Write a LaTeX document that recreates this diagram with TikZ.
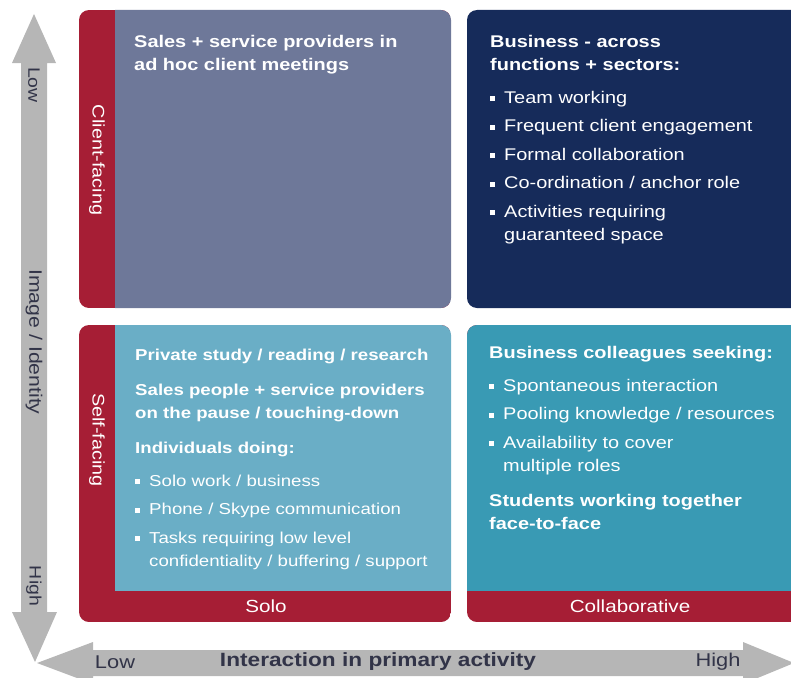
\documentclass[tikz,border=0pt]{standalone}
\usepackage{fontspec}
\setmainfont[FakeStretch=1.18]{Liberation Sans}
\usepackage{tikz}
\usetikzlibrary{positioning}
\usepackage{xcolor}
\definecolor{crimson}{RGB}{166,30,53}
\definecolor{slate}{RGB}{110,120,153}
\definecolor{navy}{RGB}{22,43,90}
\definecolor{sky}{RGB}{106,174,198}
\definecolor{deepsky}{RGB}{57,154,180}
\definecolor{axisgray}{RGB}{182,182,182}
\definecolor{axistext}{RGB}{50,52,72}
\newcommand{\bul}{\makebox[14pt][l]{\rule[2pt]{5pt}{5pt}}}
\newcommand{\ind}{\hspace*{14pt}}

\begin{document}
\begin{tikzpicture}[x=1pt,y=-1pt,
  txt/.style={anchor=north west,inner sep=0pt,align=left,text=white,font=\fontsize{16.9}{23}\selectfont},
  ax/.style={text=axistext,inner sep=0pt,font=\fontsize{18.5}{20}\selectfont},
  tab/.style={text=white,inner sep=0pt,font=\fontsize{17.5}{20}\selectfont}]
\useasboundingbox (0,0) rectangle (791,677);
% axes
\fill[axisgray] (34,14)--(56,63)--(47,63)--(47,612)--(57,612)--(35,662)--(12,612)--(21,612)--(21,63)--(12,63)--cycle;
\fill[axisgray] (37,663)--(93,642)--(93,650)--(743,650)--(743,642)--(794,663)--(743,684)--(743,676)--(93,676)--(93,684)--cycle;
\node[ax,rotate=-90,font=\fontsize{16.5}{20}\selectfont] (ylow) at (34,85) {Low};
\node[ax,rotate=-90,font=\fontsize{18}{20}\selectfont] (ylab) at (34,342) {Image / Identity};
\node[ax,rotate=-90,font=\fontsize{16.5}{20}\selectfont] (yhigh) at (34,586) {High};
\node[ax] (xlow) at (115,662) {Low};
\node[ax,font=\fontsize{19.2}{20}\selectfont\bfseries] (xlab) at (378,662) {Interaction in primary activity};
\node[ax] (xhigh) at (718,662) {High};
% quadrants
\begin{scope}
\clip[rounded corners=10pt] (79,10) rectangle (451,308);
\fill[crimson] (79,10) rectangle (451,308);
\fill[slate] (115,0) rectangle (460,320);
\end{scope}
\fill[navy,rounded corners=10pt] (467,10) rectangle (805,308);
\begin{scope}
\clip[rounded corners=10pt] (79,325) rectangle (451,622);
\fill[crimson] (79,325) rectangle (451,622);
\fill[sky] (115,315) rectangle (460,591);
\end{scope}
\begin{scope}
\clip[rounded corners=10pt] (467,325) rectangle (805,622);
\fill[crimson] (467,325) rectangle (805,622);
\fill[deepsky] (460,315) rectangle (810,591);
\end{scope}
% strip labels
\node[tab,rotate=-90,font=\fontsize{16.8}{20}\selectfont] (client) at (97,160) {Client-facing};
\node[tab,rotate=-90,font=\fontsize{16.8}{20}\selectfont] (self) at (97,440) {Self-facing};
\node[tab] (solo) at (266,606) {Solo};
\node[tab] (collab) at (630,606) {Collaborative};
% texts
\node[txt] (tl) at (134,34.7) {\textbf{Sales + service providers in}\\
  \textbf{ad hoc client meetings}};
\node[txt] (tr) at (490,34.7) {\textbf{Business - across}\\
  \textbf{functions + sectors:}\\[10pt]
  \bul Team working\\[5.5pt]
  \bul Frequent client engagement\\[5.5pt]
  \bul Formal collaboration\\[5.5pt]
  \bul Co-ordination / anchor role\\[5.5pt]
  \bul Activities requiring\\
  \ind guaranteed space};
\node[txt,font=\fontsize{15.8}{23}\selectfont] (bl) at (135,348.5) {\textbf{Private study / reading / research}\\[12pt]
  \textbf{Sales people + service providers}\\
  \textbf{on the pause / touching-down}\\[12pt]
  \textbf{Individuals doing:}\\[10pt]
  \bul Solo work / business\\[5.5pt]
  \bul Phone / Skype communication\\[5.5pt]
  \bul Tasks requiring low level\\
  \ind confidentiality / buffering / support};
\node[txt] (br) at (489,345.7) {\textbf{Business colleagues seeking:}\\[10pt]
  \bul Spontaneous interaction\\[5.5pt]
  \bul Pooling knowledge / resources\\[5.5pt]
  \bul Availability to cover\\
  \ind multiple roles\\[12pt]
  \textbf{Students working together}\\
  \textbf{face-to-face}};
\end{tikzpicture}
\end{document}
